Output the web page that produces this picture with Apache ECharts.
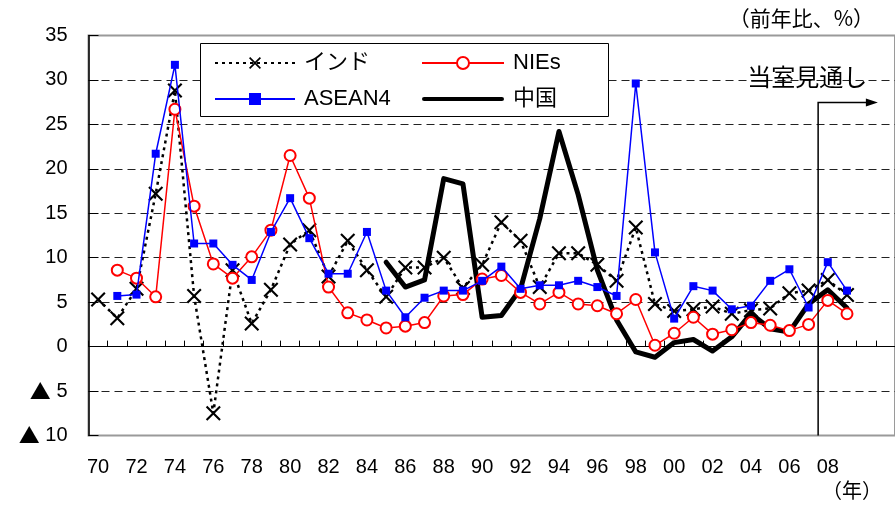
<!DOCTYPE html>
<html><head><meta charset="utf-8">
<script src="https://cdn.jsdelivr.net/npm/echarts@6/dist/echarts.min.js"></script>
<style>html,body{margin:0;padding:0;background:#fff}#c{width:895px;height:505px}</style>
</head><body><div id="c"></div>
<script>
const years = ['1970','1971','1972','1973','1974','1975','1976','1977','1978','1979',
  '1980','1981','1982','1983','1984','1985','1986','1987','1988','1989',
  '1990','1991','1992','1993','1994','1995','1996','1997','1998','1999',
  '2000','2001','2002','2003','2004','2005','2006','2007','2008','2009','2010','2011'];
const lastLabelYear = 2008;
const forecastStart = '2008';
const india = [5.3,3.2,6.5,17.2,28.8,5.7,-7.5,8.6,2.6,6.4,
  11.5,13.1,7.9,11.9,8.6,5.6,8.9,8.9,10.0,6.6,
  9.2,14.0,11.9,6.7,10.5,10.5,9.2,7.4,13.4,4.8,
  4.0,4.2,4.5,3.7,4.1,4.3,6.0,6.3,7.5,5.8];
const nies = [null,8.6,7.7,5.6,26.7,15.8,9.3,7.7,10.1,13.1,
  21.5,16.7,6.7,3.8,3.0,2.1,2.3,2.7,5.7,5.85,
  7.6,8.0,6.1,4.8,6.1,4.8,4.6,3.7,5.3,0.15,
  1.5,3.3,1.4,1.9,2.7,2.4,1.8,2.5,5.2,3.7];
const asean4 = [null,5.7,5.85,21.7,31.7,11.6,11.6,9.2,7.5,12.9,
  16.7,12.2,8.2,8.2,12.9,6.3,3.3,5.5,6.3,6.3,
  7.4,9.0,6.5,6.9,6.9,7.4,6.7,5.7,29.6,10.6,
  3.15,6.8,6.3,4.2,4.6,7.4,8.7,4.4,9.5,6.3];
const china = [null,null,null,null,null,null,null,null,null,null,
  null,null,null,null,null,9.5,6.7,7.5,18.9,18.3,
  3.3,3.5,6.5,14.4,24.2,17.1,8.6,3.0,-0.6,-1.2,
  0.45,0.8,-0.5,1.1,3.7,2.0,1.65,4.8,6.4,4.35];

const FONT = "'Liberation Sans','Noto Sans CJK JP',sans-serif";
const JP = "'Noto Sans CJK JP','Liberation Sans',sans-serif";
const chart = echarts.init(document.getElementById('c'), null, {renderer:'canvas'});
const xSym = 'path://M2,0L10,8L18,0L20,2L12,10L20,18L18,20L10,12L2,20L0,18L8,10L0,2Z';
const thickIcon = 'path://M2,0H78A2,2 0 0 1 78,4H2A2,2 0 0 1 2,0Z';
const gridLeft = 88.5, gridTop = 35.5, gridW = 811.4, gridH = 400;

const splitColors = ['rgba(0,0,0,0)','#222','rgba(0,0,0,0)','#222','#222','#222','#222','#222','#222','rgba(0,0,0,0)'];

const legendText = {fontFamily: FONT, fontSize: 22, color: '#000', lineHeight: 22, padding:[0,0,0,4]};

const option = {
  animation: false,
  backgroundColor: '#fff',
  textStyle: {fontFamily: FONT},
  grid: {left: gridLeft, top: gridTop, width: gridW, height: gridH, show: true,
         borderColor: '#9a9a9a', borderWidth: 2, backgroundColor: 'transparent'},
  legend: [
    {data: ['インド','ASEAN4'], orient: 'vertical', left: 214, top: 52, padding: 0,
     itemWidth: 80, itemHeight: 15, itemGap: 14, textStyle: legendText, z: 6},
    {data: ['NIEs', {name: '中国', icon: thickIcon}], orient: 'vertical', left: 421, top: 52, padding: 0,
     itemWidth: 82, itemHeight: 15, itemGap: 14, textStyle: legendText, z: 6}
  ],
  xAxis: [
    {type: 'category', data: years, boundaryGap: true,
     axisLine: {onZero: true, lineStyle: {color: '#000', width: 1}},
     axisTick: {show: true, inside: true, length: 6, interval: 0, lineStyle: {color: '#000'}},
     axisLabel: {show: false}, splitLine: {show: false}},
    {type: 'category', data: years, boundaryGap: true, position: 'bottom',
     axisLine: {show: false, onZero: false}, axisTick: {show: false},
     axisLabel: {interval: 1, fontSize: 20, color: '#000', margin: 22, fontFamily: FONT,
       formatter: v => (+v <= lastLabelYear ? v.slice(2) : '')},
     splitLine: {show: false}}
  ],
  yAxis: {type: 'value', min: -10, max: 35, interval: 5,
    axisLine: {show: true, lineStyle: {color: '#000', width: 1.5}},
    axisTick: {show: true, inside: true, length: 10, lineStyle: {color: '#000'}},
    axisLabel: {fontSize: 20, color: '#000', margin: 21, fontFamily: FONT,
      formatter: v => (v < 0 ? '{t|▲} ' + (-v) : String(v)),
      rich: {t: {fontFamily: JP, fontSize: 21, color: '#000'}}},
    splitLine: {show: true, lineStyle: {color: splitColors, type: [8,5], width: 1}}},
  series: [
    {name: '中国', type: 'line', data: china, symbol: 'none', z: 2,
     lineStyle: {color: '#000', width: 5, join: 'round', cap: 'round'}, itemStyle: {color: '#000'}},
    {name: 'インド', type: 'line', data: india, symbol: xSym, symbolSize: 15, showAllSymbol: true, z: 3,
     lineStyle: {color: '#000', width: 2.5, type: [3,4]}, itemStyle: {color: '#000'}},
    {name: 'NIEs', type: 'line', data: nies, symbol: 'emptyCircle', symbolSize: 11, showAllSymbol: true, z: 4,
     lineStyle: {color: '#ff0000', width: 1.5}, itemStyle: {color: '#ff0000', borderWidth: 1.5}},
    {name: 'ASEAN4', type: 'line', data: asean4, symbol: 'rect', symbolSize: 8, showAllSymbol: true, z: 5,
     lineStyle: {color: '#0000ff', width: 1.5}, itemStyle: {color: '#0000ff'}}
  ]
};
chart.setOption(option);

const bw = gridW / years.length;
const xF = chart.convertToPixel({xAxisIndex: 0}, forecastStart) - bw / 2;
const xE = chart.convertToPixel({xAxisIndex: 0}, '2010') + bw / 2;
const yA = chart.convertToPixel({yAxisIndex: 0}, 27.45);
const yB = chart.convertToPixel({yAxisIndex: 0}, -10);

chart.setOption({
  graphic: [
    {type: 'rect', z: 3, shape: {x: 200.5, y: 43.5, width: 408, height: 73},
     style: {fill: '#fff', stroke: '#000', lineWidth: 1}},
    {type: 'polyline', z: 6, shape: {points: [[xF, yB], [xF, yA], [xE - 9, yA]]},
     style: {stroke: '#000', lineWidth: 1.5, fill: null}},
    {type: 'polygon', z: 6, shape: {points: [[xE - 10, yA - 4], [xE + 2, yA], [xE - 10, yA + 4]]},
     style: {fill: '#000'}},
    {type: 'text', z: 6, x: xF - 71, y: yA - 26,
     style: {text: '当室見通し', font: "24px " + JP, fill: '#000', verticalAlign: 'middle', align: 'left'}},
    {type: 'text', z: 6, x: 874, y: 18,
     style: {text: '（前年比、%）', font: "21px " + JP, fill: '#000', verticalAlign: 'middle', align: 'right'}},
    {type: 'text', z: 6, x: 882, y: 490,
     style: {text: '（年）', font: "20px " + JP, fill: '#000', verticalAlign: 'middle', align: 'right'}}
  ]
});
</script></body></html>
